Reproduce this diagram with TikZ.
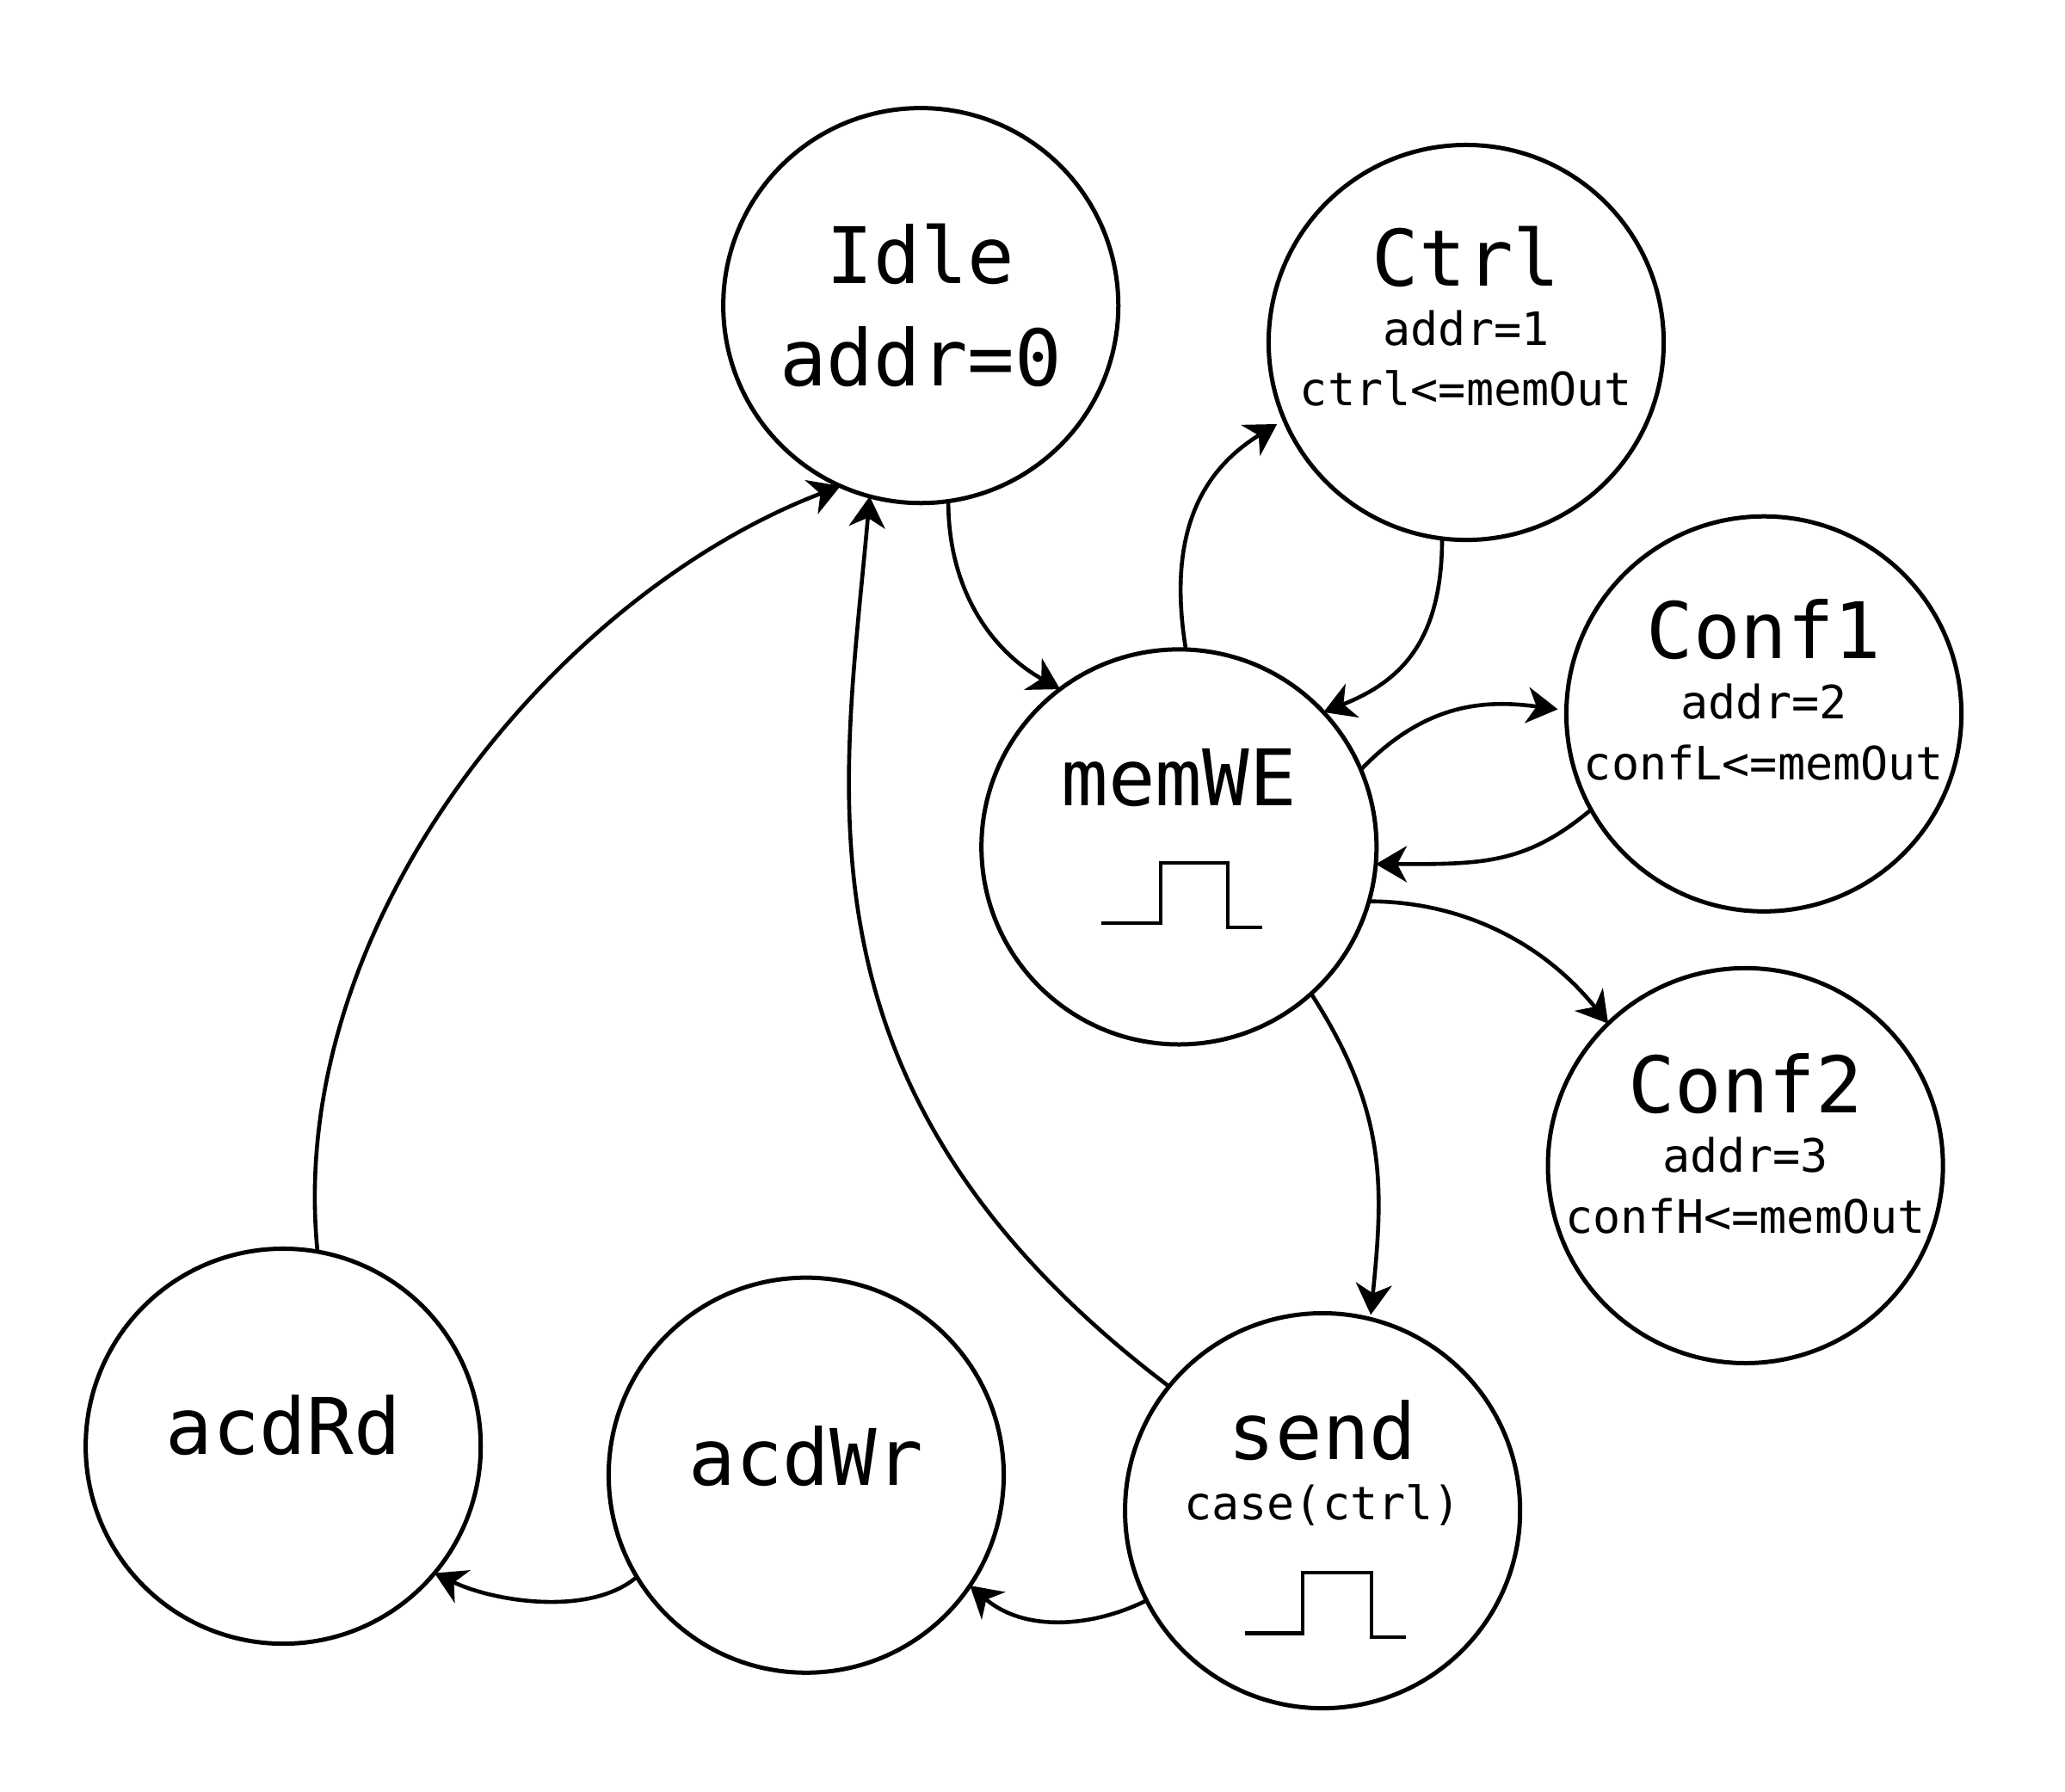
\documentclass[tikz,border=0pt]{standalone}
\usepackage{fontspec}
\setmainfont{DejaVu Sans Mono}
\usetikzlibrary{arrows.meta}
\tikzset{
  state/.style={circle,draw=black,line width=0.5mm,minimum size=45.9mm,inner sep=0pt,outer sep=0pt},
  bigtxt/.style={anchor=base,inner sep=0pt,font=\fontsize{25.8}{30}\selectfont},
  smalltxt/.style={anchor=base,inner sep=0pt,font=\fontsize{15.2}{18}\selectfont},
  conn/.style={line width=0.46mm,-{Stealth[length=3.6mm,width=4.2mm,inset=1.1mm]}},
  pulse/.style={line width=0.44mm}
}
\begin{document}
\begin{tikzpicture}[x=0.01531cm,y=-0.01531cm]
\useasboundingbox (0,0) rectangle (1567.6,1360.5);
\node[state] (idle) at (699,232) {};
\node[state] (ctrl) at (1113,260) {};
\node[state] (conf1) at (1339,542) {};
\node[state] (conf2) at (1325,885) {};
\node[state] (memwe) at (895,643) {};
\node[state] (send) at (1004,1147) {};
\node[state] (acdwr) at (612,1120) {};
\node[state] (acdrd) at (215,1098) {};

\node[bigtxt] (t1) at (699,215) {Idle};
\node[bigtxt] (t2) at (699,293) {addr=0};
\node[bigtxt] (t3) at (1113,217) {Ctrl};
\node[smalltxt] (t4) at (1113,262) {addr=1};
\node[smalltxt] (t5) at (1113,308) {ctrl<=memOut};
\node[bigtxt] (t6) at (1339,500) {Conf1};
\node[smalltxt] (t7) at (1339,546) {addr=2};
\node[smalltxt] (t8) at (1339,592) {confL<=memOut};
\node[bigtxt] (t9) at (1325,845) {Conf2};
\node[smalltxt] (t10) at (1325,890) {addr=3};
\node[smalltxt] (t11) at (1325,936) {confH<=memOut};
\node[bigtxt] (t12) at (895,612) {memWE};
\node[bigtxt] (t13) at (1004,1108) {send};
\node[smalltxt] (t14) at (1004,1154) {case(ctrl)};
\node[bigtxt] (t15) at (612,1128) {acdWr};
\node[bigtxt] (t16) at (215,1104) {acdRd};

\draw[pulse] (836,701) -- (881,701) -- (881,655) -- (932,655) -- (932,704) -- (958,704);
\draw[pulse] (945,1240) -- (989,1240) -- (989,1194) -- (1041,1194) -- (1041,1243) -- (1067,1243);

\draw[conn] (idle.-82.5) .. controls +(0,70) and +(-50,-28) .. (memwe.127.4);
\draw[conn,shorten >=1mm] (memwe.88) .. controls +(-14,-85) and +(-65,40) .. (ctrl.-157.4);
\draw[conn] (ctrl.-97.5) .. controls +(0,82) and +(55,-22) .. (memwe.43);
\draw[conn,shorten >=1mm] (memwe.23) .. controls +(50,-52) and +(-60,-8) .. (conf1.179);
\draw[conn] (conf1.-151) .. controls +(-50,42) and +(80,0) .. (memwe.-5);
\draw[conn] (memwe.-16.4) .. controls +(70,0) and +(-50,-62) .. (conf2.134.5);
\draw[conn,shorten >=0.5mm] (memwe.-48.5) .. controls +(58,90) and +(10,-100) .. (send.76.5);
\draw[conn] (send.141.8) .. controls +(-296,-224) and +(-19,220) .. (idle.-105);
\draw[conn] (acdrd.80) .. controls +(-25,-250) and +(-215,82) .. (idle.-114.5);
\draw[conn] (send.-153) .. controls +(-40,20) and +(42,36) .. (acdwr.-34);
\draw[conn] (acdwr.-149) .. controls +(-35,30) and +(46,22) .. (acdrd.-40);
\end{tikzpicture}
\end{document}
